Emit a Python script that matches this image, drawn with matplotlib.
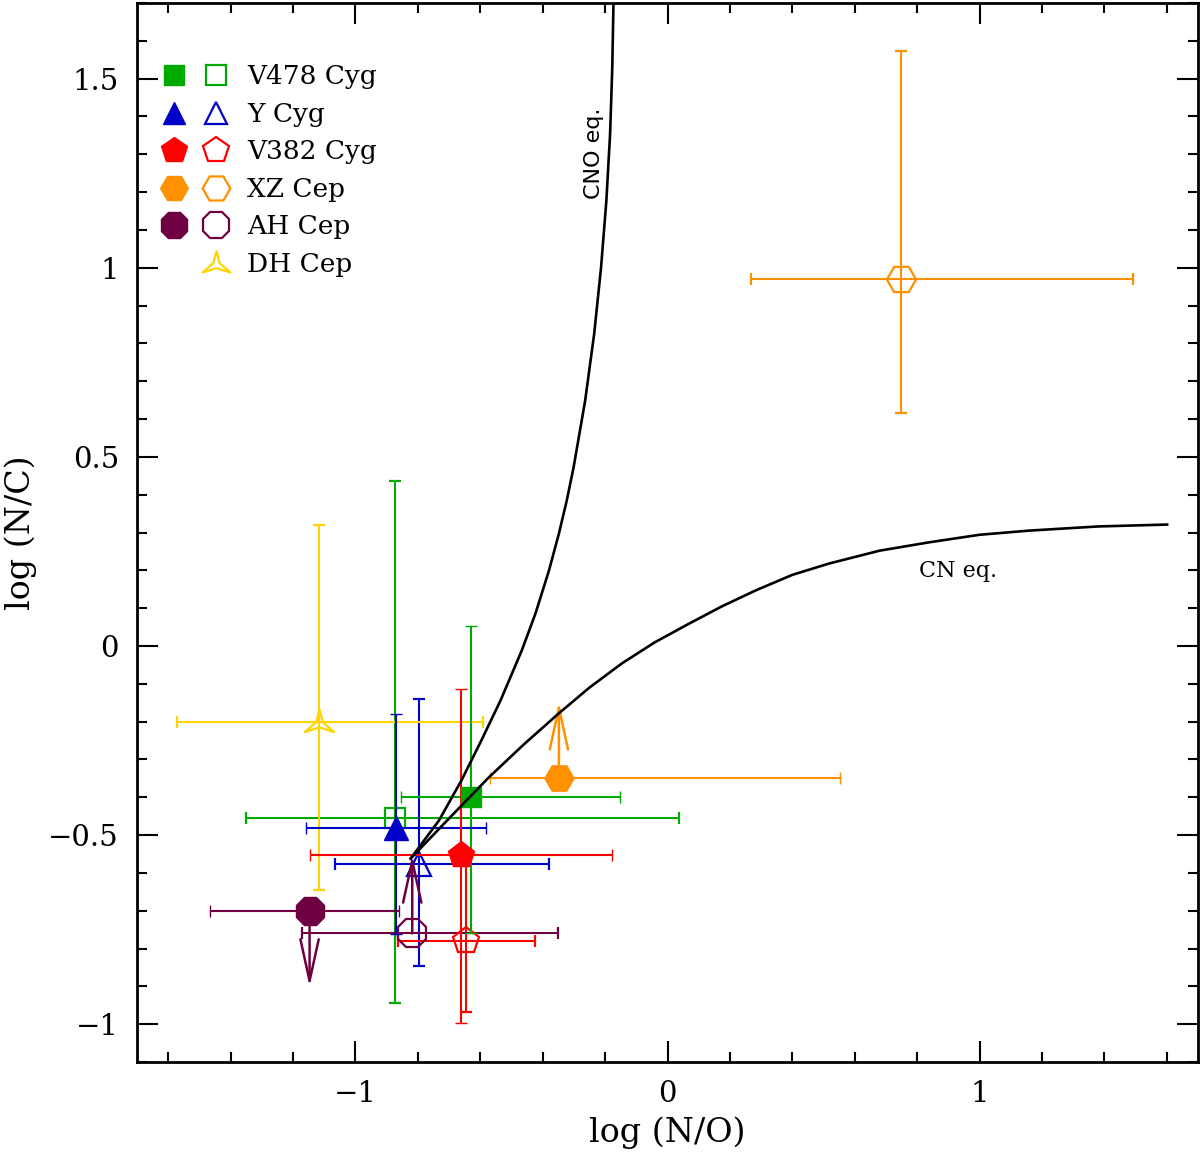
import matplotlib
matplotlib.use("Agg")
import matplotlib.pyplot as plt
from matplotlib.path import Path
from matplotlib.ticker import MultipleLocator

# ---------------- data ----------------
# theoretical curves
cno_x = [-0.823, -0.732, -0.660, -0.596, -0.535, -0.467, -0.423, -0.380, -0.348,
         -0.323, -0.301, -0.264, -0.235, -0.213, -0.196, -0.184, -0.177, -0.173]
cno_y = [-0.562, -0.461, -0.355, -0.249, -0.144, -0.012, 0.086, 0.199, 0.297,
         0.384, 0.472, 0.648, 0.825, 1.000, 1.176, 1.353, 1.528, 1.704]
cn_x = [-0.823, -0.70, -0.572, -0.46, -0.348, -0.25, -0.146, -0.04, 0.069, 0.175,
        0.283, 0.40, 0.518, 0.68, 0.838, 1.0, 1.159, 1.38, 1.601]
cn_y = [-0.562, -0.456, -0.347, -0.260, -0.178, -0.110, -0.046, 0.010, 0.059, 0.105,
        0.147, 0.188, 0.218, 0.252, 0.274, 0.294, 0.305, 0.316, 0.321]

stars = ["V478 Cyg", "Y Cyg", "V382 Cyg", "XZ Cep", "AH Cep", "DH Cep"]
colors = ["#00aa00", "#0000c8", "#ff0000", "#ff9000", "#6e0042", "#ffd400"]

# filled symbols: x, y, x-range, y-range (None = no y error), limit arrow length
filled_x    = [-0.629, -0.871, -0.661, -0.348, -1.147, None]
filled_y    = [-0.399, -0.480, -0.554, -0.348, -0.701, None]
filled_xlo  = [-0.855, -1.158, -1.147, -0.569, -1.467, None]
filled_xhi  = [-0.153, -0.583, -0.177, 0.553, -0.861, None]
filled_ylo  = [-0.760, -0.762, -0.997, None, None, None]
filled_yhi  = [0.054, -0.179, -0.113, None, None, None]
filled_lim  = [0.0, 0.0, 0.0, 0.2, -0.2, 0.0]

# open symbols
open_x    = [-0.873, -0.796, -0.647, 0.748, -0.818, -1.116]
open_y    = [-0.456, -0.577, -0.780, 0.971, -0.760, -0.201]
open_xlo  = [-1.352, -1.066, -0.863, 0.269, -1.172, -1.571]
open_xhi  = [0.037, -0.380, -0.426, 1.492, -0.351, -0.591]
open_ylo  = [-0.943, -0.845, -0.967, 0.617, None, -0.644]
open_yhi  = [0.437, -0.139, -0.580, 1.572, None, 0.321]
open_lim  = [0.0, 0.0, 0.0, 0.0, 0.207, 0.0]

# ---------------- style ----------------
SERIF = ["DejaVu Serif"]
plt.rcParams["font.family"] = SERIF
plt.rcParams["axes.unicode_minus"] = True

# three pointed concave star for DH Cep
star_verts = [(0.0, 0.85), (0.22, 0.02), (0.95, -0.62), (0.0, -0.32),
              (-0.95, -0.62), (-0.22, 0.02), (0.0, 0.85)]
star_codes = [Path.MOVETO] + [Path.LINETO] * 5 + [Path.CLOSEPOLY]
star_path = Path(star_verts, star_codes)

markers = ["s", "^", "p", "H", "8", star_path]
msizes = [15, 17, 20, 21, 22, 21]

fig = plt.figure(figsize=(12.0, 11.57), dpi=100)
ax = fig.add_axes([137 / 1200, (1157 - 1062) / 1157, 1061 / 1200, 1059 / 1157])
ax.set_xlim(-1.70, 1.70)
ax.set_ylim(-1.10, 1.70)

ax.plot(cno_x, cno_y, color="black", lw=1.9, zorder=5, solid_joinstyle="round")
ax.plot(cn_x, cn_y, color="black", lw=1.9, zorder=5, solid_joinstyle="round")

ekw = dict(elinewidth=1.5, capsize=4, capthick=1.5, linestyle="none")
arrow_style = "->,head_length=1.5,head_width=0.33"

for i in range(len(stars)):
    c = colors[i]
    # open symbol
    x, y = open_x[i], open_y[i]
    xerr = [[x - open_xlo[i]], [open_xhi[i] - x]]
    yerr = None
    if open_ylo[i] is not None:
        yerr = [[y - open_ylo[i]], [open_yhi[i] - y]]
    ax.errorbar([x], [y], xerr=xerr, yerr=yerr, color=c, ecolor=c,
                marker=markers[i], ms=msizes[i], mfc="none", mec=c, mew=1.6,
                zorder=3, **ekw)
    if open_lim[i] != 0:
        ax.annotate("", xy=(x, y + open_lim[i]), xytext=(x, y),
                    arrowprops=dict(arrowstyle=arrow_style, mutation_scale=20,
                                    lw=1.8, color=c, shrinkA=0, shrinkB=0),
                    zorder=4)
    # filled symbol
    if filled_x[i] is not None:
        x, y = filled_x[i], filled_y[i]
        xerr = [[x - filled_xlo[i]], [filled_xhi[i] - x]]
        yerr = None
        if filled_ylo[i] is not None:
            yerr = [[y - filled_ylo[i]], [filled_yhi[i] - y]]
        ax.errorbar([x], [y], xerr=xerr, yerr=yerr, color=c, ecolor=c,
                    marker=markers[i], ms=msizes[i], mfc=c, mec=c, mew=1.0,
                    zorder=4, **ekw)
        if filled_lim[i] != 0:
            ax.annotate("", xy=(x, y + filled_lim[i]), xytext=(x, y),
                        arrowprops=dict(arrowstyle=arrow_style, mutation_scale=20,
                                        lw=1.8, color=c, shrinkA=0, shrinkB=0),
                        zorder=4)

# legend (manual, axes fraction)
row0, drow = 0.932, 0.0355
for i, name in enumerate(stars):
    yy = row0 - i * drow
    c = colors[i]
    if filled_x[i] is not None:
        ax.plot([0.0352], [yy], transform=ax.transAxes, marker=markers[i],
                ms=msizes[i] * 0.95, mfc=c, mec=c, mew=1.0, ls="none", clip_on=False)
    ax.plot([0.0742], [yy], transform=ax.transAxes, marker=markers[i],
            ms=msizes[i] * 0.95, mfc="none", mec=c, mew=1.6, ls="none", clip_on=False)
    ax.text(0.1040, yy - 0.0085, name, transform=ax.transAxes, fontsize=19,
            va="baseline", ha="left", family=SERIF)

# curve labels
ax.text(-0.236, 1.303, "CNO eq.", rotation=90, ha="center", va="center",
        fontsize=16, family=["DejaVu Sans"])
ax.text(0.93, 0.199, "CN eq.", ha="center", va="center", fontsize=16, family=SERIF)

# axes styling
ax.xaxis.set_major_locator(MultipleLocator(1.0))
ax.xaxis.set_minor_locator(MultipleLocator(0.2))
ax.yaxis.set_major_locator(MultipleLocator(0.5))
ax.yaxis.set_minor_locator(MultipleLocator(0.1))
ax.tick_params(which="both", direction="in", top=True, right=True, width=1.5)
ax.tick_params(which="major", length=15, labelsize=21, pad=13)
ax.tick_params(which="minor", length=7.5)
for s in ax.spines.values():
    s.set_linewidth(2.0)


def fmt(v, pos):
    if abs(v) < 1e-9:
        return "0"
    return ("%g" % v).replace("-", "\u2212")


ax.xaxis.set_major_formatter(plt.FuncFormatter(fmt))
ax.yaxis.set_major_formatter(plt.FuncFormatter(fmt))

ax.set_xlabel("log (N/O)", fontsize=24, labelpad=6)
ax.set_ylabel("log (N/C)", fontsize=24, labelpad=8)

fig.savefig("out.png", dpi=100)
